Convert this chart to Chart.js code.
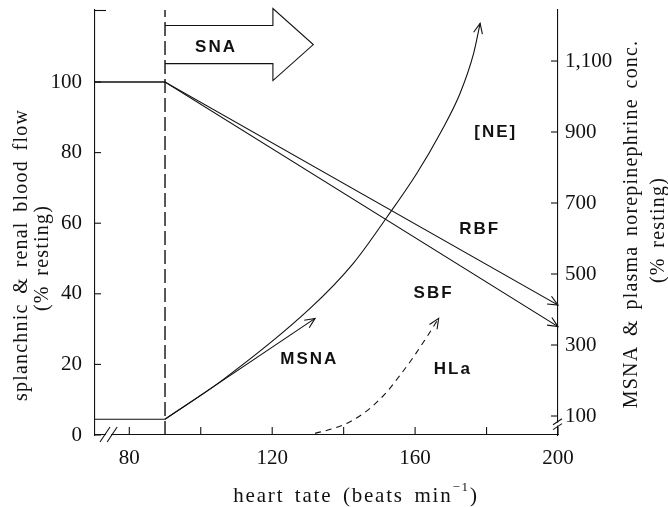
<!DOCTYPE html>
<html>
<head>
<meta charset="utf-8">
<script src="https://cdn.jsdelivr.net/npm/chart.js@4.4.1/dist/chart.umd.min.js"></script>
<style>
  html, body { margin: 0; padding: 0; background: #fff; }
  #wrap { width: 668px; height: 507px; }
</style>
</head>
<body>
<div id="wrap"><canvas id="chart"></canvas></div>
<script>
const xMin = 70.4, xMax = 200;
const leftMax = 120.4;
const rightMin = 46.5, rightMax = 1243.7;

const xTickLabels = [80, 120, 160, 200];
const xTickMarks = [80, 100, 120, 140, 160, 180, 200];
const leftTicks = [0, 20, 40, 60, 80, 100];
const rightTicks = [100, 300, 500, 700, 900, 1100];

// blood flow, left axis (% resting)
const flowHr = [70.4, 90, 200];
const rbf = [100, 100, 36.8];
const sbf = [100, 100, 30.7];

// right axis (% resting)
const msnaHr = [70.4, 90, 132];
const msna = [91, 91, 375];
const neHr = [90, 105.4, 130.6, 142.7, 152.1, 160.5, 167.0, 172.6, 176.4, 178.2];
const ne = [91, 196, 403, 530, 660, 784, 896, 1009, 1122, 1206];
const hlaHr = [132.0, 137.1, 141.8, 147.4, 152.1, 155.8, 159.6, 163.3, 166.6];
const hla = [51, 65, 84, 122, 168, 215, 267, 323, 375];

const onsetHr = 90;

// text placed in data units (x, left axis)
const notes = [
  { text: "SNA", x: 104.0, y: 109.8 },
  { text: "[NE]", x: 182.3, y: 85.8 },
  { text: "RBF", x: 177.8, y: 58.3 },
  { text: "SBF", x: 164.9, y: 40.2 },
  { text: "MSNA", x: 130.1, y: 21.5 },
  { text: "HLa", x: 170.3, y: 18.7 }
];

const ink = "#111";
const serif = "'Liberation Serif', 'Times New Roman', serif";
const sans = "'Liberation Sans', Arial, sans-serif";

function pts(xs, ys) {
  return xs.map((x, i) => ({ x, y: ys[i] }));
}

function seg(ctx, x1, y1, x2, y2) {
  ctx.beginPath();
  ctx.moveTo(x1, y1);
  ctx.lineTo(x2, y2);
  ctx.stroke();
}

function arrowHead(ctx, tipX, tipY, fromX, fromY) {
  const len = 11, spread = 0.42;
  const a = Math.atan2(tipY - fromY, tipX - fromX);
  ctx.beginPath();
  ctx.moveTo(tipX - len * Math.cos(a - spread), tipY - len * Math.sin(a - spread));
  ctx.lineTo(tipX, tipY);
  ctx.lineTo(tipX - len * Math.cos(a + spread), tipY - len * Math.sin(a + spread));
  ctx.stroke();
}

function rotatedText(ctx, text, cx, cy) {
  ctx.save();
  ctx.translate(cx, cy);
  ctx.rotate(-Math.PI / 2);
  ctx.fillText(text, 0, 0);
  ctx.restore();
}

const decorations = {
  id: "decorations",
  afterDatasetsDraw(chart) {
    const { ctx, chartArea: area, scales: { x, y, y2 } } = chart;
    ctx.save();
    ctx.strokeStyle = ink;
    ctx.fillStyle = ink;
    ctx.lineWidth = 1.1;
    ctx.setLineDash([]);

    // inward tick marks
    xTickMarks.forEach((v) => seg(ctx, x.getPixelForValue(v), area.bottom, x.getPixelForValue(v), area.bottom - 8));
    leftTicks.forEach((v) => seg(ctx, area.left, y.getPixelForValue(v), area.left + 6, y.getPixelForValue(v)));
    seg(ctx, area.left, area.top + 0.5, area.left + 11, area.top + 0.5);
    rightTicks.forEach((v) => seg(ctx, area.right, y2.getPixelForValue(v), area.right - 7, y2.getPixelForValue(v)));

    // axis breaks
    const b1 = x.getPixelForValue(73.2), b2 = x.getPixelForValue(75.2);
    ctx.fillStyle = "#fff";
    ctx.fillRect(b1 + 1, area.bottom - 2, b2 - b1 - 2, 4);
    ctx.fillStyle = ink;
    [b1, b2].forEach((bx) => seg(ctx, bx - 5, area.bottom + 7, bx + 5, area.bottom - 8));
    const r1 = y2.getPixelForValue(70), r2 = y2.getPixelForValue(84);
    ctx.fillStyle = "#fff";
    ctx.fillRect(area.right - 2, r2 + 1, 4, r1 - r2 - 2);
    ctx.fillStyle = ink;
    [r1, r2].forEach((ry) => seg(ctx, area.right - 5, ry + 3, area.right + 4, ry - 3));

    // arrow heads at the end of each curve
    chart.data.datasets.forEach((ds, i) => {
      if (!ds.arrow) return;
      const els = chart.getDatasetMeta(i).data;
      const tip = els[els.length - 1];
      const prev = els[els.length - 2];
      const from = ds.cubicInterpolationMode === "monotone" && tip.cp1x !== undefined
        ? { x: tip.cp1x, y: tip.cp1y } : prev;
      arrowHead(ctx, tip.x, tip.y, from.x, from.y);
    });

    // SNA block arrow
    const px = (v) => x.getPixelForValue(v), py = (v) => y.getPixelForValue(v);
    ctx.beginPath();
    ctx.moveTo(px(90), py(116));
    ctx.lineTo(px(120.2), py(116));
    ctx.lineTo(px(120.2), py(120.8));
    ctx.lineTo(px(131.5), py(110.6));
    ctx.lineTo(px(120.2), py(100.4));
    ctx.lineTo(px(120.2), py(105.2));
    ctx.lineTo(px(90), py(105.2));
    ctx.stroke();

    // curve labels
    ctx.font = "bold 17px " + sans;
    ctx.letterSpacing = "2px";
    ctx.textAlign = "center";
    ctx.textBaseline = "middle";
    notes.forEach((n) => ctx.fillText(n.text, px(n.x) + 1, py(n.y)));

    // axis titles
    ctx.font = "20px " + serif;
    ctx.letterSpacing = "1.2px";
    ctx.wordSpacing = "3.5px";
    rotatedText(ctx, "splanchnic & renal blood flow", 22, 255);
    rotatedText(ctx, "(% resting)", 43, 258);
    rotatedText(ctx, "MSNA & plasma norepinephrine conc.", 632, 224);
    rotatedText(ctx, "(% resting)", 659, 230);

    const runs = [
      { t: "heart tate (beats min", f: "21px " + serif, dy: 0 },
      { t: "\u22121", f: "13px " + serif, dy: -8 },
      { t: ")", f: "21px " + serif, dy: 0 }
    ];
    ctx.letterSpacing = "1.8px";
    ctx.textAlign = "left";
    let total = 0;
    runs.forEach((r) => { ctx.font = r.f; r.w = ctx.measureText(r.t).width; total += r.w; });
    let cx = 356 - total / 2;
    runs.forEach((r) => { ctx.font = r.f; ctx.fillText(r.t, cx, 496 + r.dy); cx += r.w; });

    ctx.restore();
  }
};

function lineSet(data, axis, extra) {
  return Object.assign({
    data,
    yAxisID: axis,
    borderColor: ink,
    borderWidth: 1.1,
    pointRadius: 0,
    fill: false,
    tension: 0
  }, extra || {});
}

const tickFont = { family: serif, size: 21 };

new Chart(document.getElementById("chart"), {
  type: "scatter",
  data: {
    datasets: [
      lineSet(pts(flowHr, rbf), "y", { showLine: true, arrow: true }),
      lineSet(pts(flowHr, sbf), "y", { showLine: true, arrow: true }),
      lineSet(pts(msnaHr, msna), "y2", { showLine: true, arrow: true }),
      lineSet(pts(neHr, ne), "y2", { showLine: true, arrow: true, cubicInterpolationMode: "monotone" }),
      lineSet(pts(hlaHr, hla), "y2", { showLine: true, arrow: true, cubicInterpolationMode: "monotone", borderDash: [6, 5] }),
      lineSet(pts([onsetHr, onsetHr], [0, leftMax]), "y", { showLine: true, borderDash: [14, 5], borderWidth: 1.4 })
    ]
  },
  options: {
    responsive: true,
    maintainAspectRatio: false,
    devicePixelRatio: 1,
    animation: false,
    layout: { padding: { top: 10, left: 0, right: 0, bottom: 0 } },
    plugins: { legend: { display: false }, tooltip: { enabled: false } },
    scales: {
      x: {
        type: "linear",
        min: xMin,
        max: xMax,
        grid: { display: false, drawTicks: false },
        border: { display: true, color: ink, width: 1.1 },
        ticks: { color: ink, font: tickFont, padding: 11, autoSkip: false, maxRotation: 0 },
        afterBuildTicks: (s) => { s.ticks = xTickLabels.map((v) => ({ value: v })); },
        afterFit: (s) => { s.height = 72; s.paddingLeft = 0; s.paddingRight = 0; }
      },
      y: {
        position: "left",
        min: 0,
        max: leftMax,
        grid: { display: false, drawTicks: false },
        border: { display: true, color: ink, width: 1.1 },
        ticks: { color: ink, font: tickFont, padding: 13 },
        afterBuildTicks: (s) => { s.ticks = leftTicks.map((v) => ({ value: v })); },
        afterFit: (s) => { s.width = 95; s.paddingTop = 0; s.paddingBottom = 0; }
      },
      y2: {
        position: "right",
        min: rightMin,
        max: rightMax,
        grid: { display: false, drawTicks: false },
        border: { display: true, color: ink, width: 1.1 },
        ticks: { color: ink, font: tickFont, padding: 7, callback: (v) => v.toLocaleString("en-US") },
        afterBuildTicks: (s) => { s.ticks = rightTicks.map((v) => ({ value: v })); },
        afterFit: (s) => { s.width = 110; s.paddingTop = 0; s.paddingBottom = 0; }
      }
    }
  },
  plugins: [decorations]
});
</script>
</body>
</html>
